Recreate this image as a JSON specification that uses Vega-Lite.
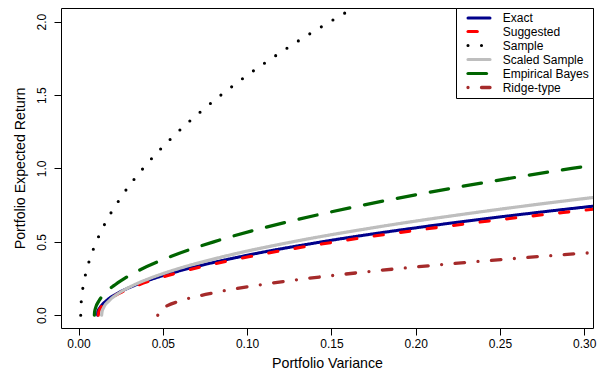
{
  "$schema": "https://vega.github.io/schema/vega-lite/v6.json",
  "autosize": {"type": "none"},
  "width": 532,
  "height": 320,
  "padding": {"left": 61, "top": 8, "right": 7, "bottom": 46},
  "background": "white",
  "config": {
    "view": {"stroke": "black", "strokeWidth": 1},
    "font": "Liberation Sans",
    "axis": {
      "domain": false,
      "grid": false,
      "ticks": true,
      "tickSize": 7,
      "tickColor": "black",
      "tickWidth": 1,
      "labelFont": "Liberation Sans",
      "labelFontSize": 12,
      "labelColor": "black",
      "titleFont": "Liberation Sans",
      "titleFontSize": 14.2,
      "titleFontWeight": "normal",
      "titleColor": "black"
    }
  },
  "data": {
    "values": [
      {"series": "Exact", "variance": 0.0113, "ret": 0.0},
      {"series": "Exact", "variance": 0.01142, "ret": 0.025},
      {"series": "Exact", "variance": 0.01263, "ret": 0.05},
      {"series": "Exact", "variance": 0.01663, "ret": 0.1},
      {"series": "Exact", "variance": 0.02328, "ret": 0.15},
      {"series": "Exact", "variance": 0.0326, "ret": 0.2},
      {"series": "Exact", "variance": 0.04458, "ret": 0.25},
      {"series": "Exact", "variance": 0.05922, "ret": 0.3},
      {"series": "Exact", "variance": 0.0965, "ret": 0.4},
      {"series": "Exact", "variance": 0.1444, "ret": 0.5},
      {"series": "Exact", "variance": 0.203, "ret": 0.6},
      {"series": "Exact", "variance": 0.2722, "ret": 0.7},
      {"series": "Exact", "variance": 0.3108, "ret": 0.75},

      {"series": "Suggested", "variance": 0.0117, "ret": 0.0},
      {"series": "Suggested", "variance": 0.01205, "ret": 0.025},
      {"series": "Suggested", "variance": 0.01311, "ret": 0.05},
      {"series": "Suggested", "variance": 0.01733, "ret": 0.1},
      {"series": "Suggested", "variance": 0.02437, "ret": 0.15},
      {"series": "Suggested", "variance": 0.03422, "ret": 0.2},
      {"series": "Suggested", "variance": 0.04689, "ret": 0.25},
      {"series": "Suggested", "variance": 0.06238, "ret": 0.3},
      {"series": "Suggested", "variance": 0.1018, "ret": 0.4},
      {"series": "Suggested", "variance": 0.1525, "ret": 0.5},
      {"series": "Suggested", "variance": 0.2144, "ret": 0.6},
      {"series": "Suggested", "variance": 0.2876, "ret": 0.7},
      {"series": "Suggested", "variance": 0.3118, "ret": 0.73},

      {"series": "Sample", "variance": 0.0013, "ret": 0.0},
      {"series": "Sample", "variance": 0.00139, "ret": 0.05},
      {"series": "Sample", "variance": 0.00167, "ret": 0.1},
      {"series": "Sample", "variance": 0.00278, "ret": 0.2},
      {"series": "Sample", "variance": 0.00463, "ret": 0.3},
      {"series": "Sample", "variance": 0.00722, "ret": 0.4},
      {"series": "Sample", "variance": 0.01055, "ret": 0.5},
      {"series": "Sample", "variance": 0.01461, "ret": 0.6},
      {"series": "Sample", "variance": 0.02497, "ret": 0.8},
      {"series": "Sample", "variance": 0.03828, "ret": 1.0},
      {"series": "Sample", "variance": 0.05455, "ret": 1.2},
      {"series": "Sample", "variance": 0.07379, "ret": 1.4},
      {"series": "Sample", "variance": 0.09597, "ret": 1.6},
      {"series": "Sample", "variance": 0.1211, "ret": 1.8},
      {"series": "Sample", "variance": 0.1492, "ret": 2.0},
      {"series": "Sample", "variance": 0.1803, "ret": 2.2},

      {"series": "Scaled Sample", "variance": 0.0137, "ret": 0.0},
      {"series": "Scaled Sample", "variance": 0.01398, "ret": 0.025},
      {"series": "Scaled Sample", "variance": 0.01483, "ret": 0.05},
      {"series": "Scaled Sample", "variance": 0.01823, "ret": 0.1},
      {"series": "Scaled Sample", "variance": 0.0239, "ret": 0.15},
      {"series": "Scaled Sample", "variance": 0.03183, "ret": 0.2},
      {"series": "Scaled Sample", "variance": 0.04203, "ret": 0.25},
      {"series": "Scaled Sample", "variance": 0.0545, "ret": 0.3},
      {"series": "Scaled Sample", "variance": 0.08623, "ret": 0.4},
      {"series": "Scaled Sample", "variance": 0.127, "ret": 0.5},
      {"series": "Scaled Sample", "variance": 0.1769, "ret": 0.6},
      {"series": "Scaled Sample", "variance": 0.2358, "ret": 0.7},
      {"series": "Scaled Sample", "variance": 0.3038, "ret": 0.8},
      {"series": "Scaled Sample", "variance": 0.3111, "ret": 0.81},

      {"series": "Empirical Bayes", "variance": 0.0094, "ret": 0.0},
      {"series": "Empirical Bayes", "variance": 0.00958, "ret": 0.025},
      {"series": "Empirical Bayes", "variance": 0.01011, "ret": 0.05},
      {"series": "Empirical Bayes", "variance": 0.01223, "ret": 0.1},
      {"series": "Empirical Bayes", "variance": 0.01577, "ret": 0.15},
      {"series": "Empirical Bayes", "variance": 0.02073, "ret": 0.2},
      {"series": "Empirical Bayes", "variance": 0.0271, "ret": 0.25},
      {"series": "Empirical Bayes", "variance": 0.03489, "ret": 0.3},
      {"series": "Empirical Bayes", "variance": 0.05471, "ret": 0.4},
      {"series": "Empirical Bayes", "variance": 0.0802, "ret": 0.5},
      {"series": "Empirical Bayes", "variance": 0.1114, "ret": 0.6},
      {"series": "Empirical Bayes", "variance": 0.1482, "ret": 0.7},
      {"series": "Empirical Bayes", "variance": 0.1906, "ret": 0.8},
      {"series": "Empirical Bayes", "variance": 0.2388, "ret": 0.9},
      {"series": "Empirical Bayes", "variance": 0.2926, "ret": 1.0},
      {"series": "Empirical Bayes", "variance": 0.3157, "ret": 1.04},

      {"series": "Ridge-type", "variance": 0.047, "ret": 0.0},
      {"series": "Ridge-type", "variance": 0.04789, "ret": 0.025},
      {"series": "Ridge-type", "variance": 0.05054, "ret": 0.05},
      {"series": "Ridge-type", "variance": 0.06116, "ret": 0.1},
      {"series": "Ridge-type", "variance": 0.07887, "ret": 0.15},
      {"series": "Ridge-type", "variance": 0.1037, "ret": 0.2},
      {"series": "Ridge-type", "variance": 0.1355, "ret": 0.25},
      {"series": "Ridge-type", "variance": 0.1745, "ret": 0.3},
      {"series": "Ridge-type", "variance": 0.2205, "ret": 0.35},
      {"series": "Ridge-type", "variance": 0.2736, "ret": 0.4},
      {"series": "Ridge-type", "variance": 0.3212, "ret": 0.44}
    ]
  },
  "mark": {"type": "line", "clip": true, "strokeCap": "round", "strokeJoin": "round", "interpolate": "monotone"},
  "encoding": {
    "x": {
      "field": "variance",
      "type": "quantitative",
      "scale": {"domain": [-0.0104, 0.3052], "nice": false, "zero": false},
      "axis": {
        "title": "Portfolio Variance",
        "values": [0, 0.05, 0.1, 0.15, 0.2, 0.25, 0.3],
        "format": ".2f",
        "labelPadding": 3,
        "titlePadding": 7
      }
    },
    "y": {
      "field": "ret",
      "type": "quantitative",
      "scale": {"domain": [-0.087, 2.093], "nice": false, "zero": false},
      "axis": {
        "title": "Portfolio Expected Return",
        "values": [0, 0.5, 1, 1.5, 2],
        "format": ".1f",
        "labelAngle": -90,
        "labelAlign": "center",
        "labelBaseline": "bottom",
        "labelPadding": 6,
        "titlePadding": 8
      }
    },
    "color": {
      "field": "series",
      "type": "nominal",
      "scale": {
        "domain": ["Exact", "Suggested", "Sample", "Scaled Sample", "Empirical Bayes", "Ridge-type"],
        "range": ["#00008B", "#FF0000", "#000000", "#BEBEBE", "#006400", "#A52A2A"]
      },
      "legend": {
        "title": null,
        "orient": "top-right",
        "offset": 0,
        "padding": 3.5,
        "strokeColor": "black",
        "fillColor": "white",
        "labelFont": "Liberation Sans",
        "labelFontSize": 12,
        "labelColor": "black",
        "labelOffset": 16.7,
        "rowPadding": 0,
        "symbolType": "M-2.2,0H2.2",
        "symbolSize": 100,
        "symbolOffset": 12.5,
        "encode": {
          "symbols": {
            "update": {
              "strokeCap": {"value": "round"},
              "strokeWidth": {"signal": "datum.value === 'Exact' ? 2.2 : 2.8"},
              "strokeDash": {"signal": "datum.value === 'Suggested' ? [5, 9] : datum.value === 'Sample' ? [0, 9] : datum.value === 'Ridge-type' ? [0, 9, 9.5, 10] : [1, 0]"}
            }
          }
        }
      }
    },
    "strokeDash": {
      "field": "series",
      "type": "nominal",
      "scale": {
        "domain": ["Exact", "Suggested", "Sample", "Scaled Sample", "Empirical Bayes", "Ridge-type"],
        "range": [[1, 0], [9.3, 17.4], [0, 13.5], [1, 0], [18.5, 15], [0, 13.5, 9.5, 13.5]]
      }
    },
    "strokeWidth": {
      "field": "series",
      "type": "nominal",
      "scale": {
        "domain": ["Exact", "Suggested", "Sample", "Scaled Sample", "Empirical Bayes", "Ridge-type"],
        "range": [3, 3.3, 3.5, 4, 4, 3.3]
      }
    }
  }
}
